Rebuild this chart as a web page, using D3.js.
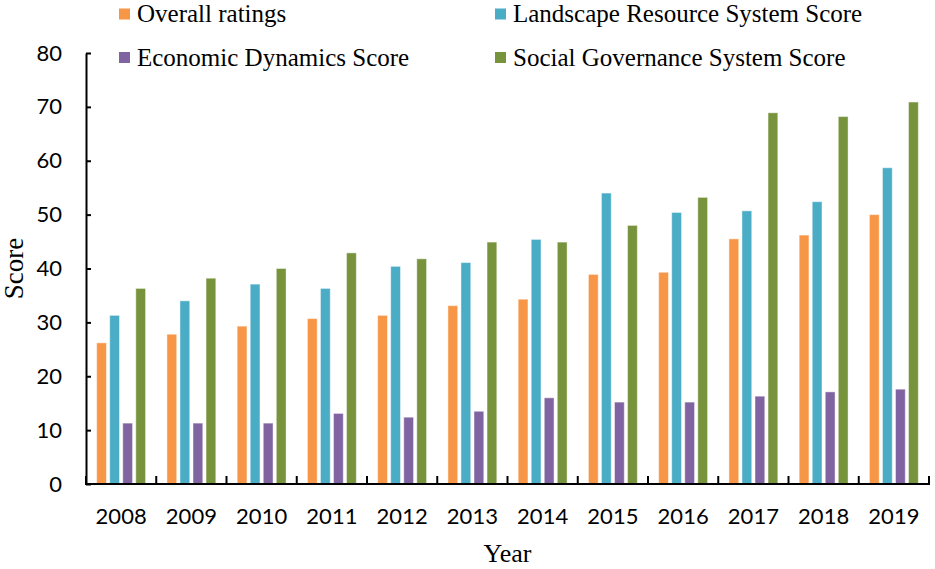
<!DOCTYPE html>
<html>
<head>
<meta charset="utf-8">
<script src="https://cdn.jsdelivr.net/npm/d3@7"></script>
<style>
  body { margin: 0; background: #fff; }
  .axis text { font-family: Lato, "Open Sans", sans-serif; font-size: 22px; fill: #000; }
  .serif { font-family: "Liberation Serif", "DejaVu Serif", serif; fill: #000; }
</style>
</head>
<body>
<div id="chart"></div>
<script>
// Datos
const years = ["2008", "2009", "2010", "2011", "2012", "2013", "2014", "2015", "2016", "2017", "2018", "2019"];
const seriesNames = ["Overall ratings", "Landscape Resource System Score", "Economic Dynamics Score", "Social Governance System Score"];
const overall   = [26.2, 27.8, 29.3, 30.7, 31.3, 33.1, 34.3, 38.9, 39.3, 45.5, 46.2, 50.0];
const landscape = [31.3, 34.0, 37.1, 36.3, 40.4, 41.1, 45.4, 54.0, 50.4, 50.7, 52.4, 58.7];
const economic  = [11.3, 11.3, 11.3, 13.1, 12.4, 13.5, 16.0, 15.2, 15.2, 16.3, 17.1, 17.6];
const social    = [36.3, 38.2, 40.0, 42.9, 41.8, 44.9, 44.9, 48.0, 53.2, 68.9, 68.2, 70.9];
const yTicks = [0, 10, 20, 30, 40, 50, 60, 70, 80];

const values = [overall, landscape, economic, social];
const colors = ["#F79646", "#4BACC6", "#8064A2", "#77933C"];

// Dimensiones
const width = 935;
const height = 569;
const margin = { top: 53, right: 6, bottom: 85, left: 86 };

const svg = d3.select("#chart").append("svg")
    .attr("width", width)
    .attr("height", height);

// Escalas
const x0 = d3.scaleBand()
    .domain(years)
    .range([margin.left, width - margin.right])
    .padding(0);

const bw = x0.bandwidth();
const x1 = d3.scaleBand()
    .domain(seriesNames)
    .range([bw * 0.152, bw * 0.848])
    .paddingInner(0.25)
    .paddingOuter(0);

const y = d3.scaleLinear()
    .domain([0, 80])
    .range([height - margin.bottom, margin.top]);

// Barras
const rows = years.map((yr, i) => ({
    year: yr,
    vals: seriesNames.map((s, k) => ({ key: s, value: values[k][i], color: colors[k] }))
}));

const groups = svg.selectAll("g.year")
    .data(rows)
    .enter().append("g")
    .attr("class", "year")
    .attr("transform", d => `translate(${x0(d.year)},0)`);

groups.selectAll("rect")
    .data(d => d.vals)
    .enter().append("rect")
    .attr("x", d => x1(d.key))
    .attr("width", x1.bandwidth())
    .attr("y", d => y(d.value))
    .attr("height", d => y(0) - y(d.value))
    .attr("fill", d => d.color)
    .attr("stroke", "#ffffff")
    .attr("stroke-opacity", 0.45)
    .attr("stroke-width", 1);

// Eje Y (marcas hacia dentro)
const yAxis = svg.append("g")
    .attr("class", "axis")
    .attr("transform", `translate(${margin.left},0)`)
    .call(d3.axisLeft(y).tickValues(yTicks).tickSizeInner(-5).tickSizeOuter(0).tickPadding(24));
yAxis.select(".domain").attr("stroke", "#000").attr("stroke-width", 2);
yAxis.selectAll(".tick line").attr("stroke", "#000").attr("stroke-width", 2);

// Eje X: etiquetas centradas, marcas entre categorías
const xAxis = svg.append("g")
    .attr("class", "axis")
    .attr("transform", `translate(0,${height - margin.bottom})`)
    .call(d3.axisBottom(x0).tickSize(0).tickPadding(24));
xAxis.select(".domain").remove();

svg.append("line")
    .attr("x1", margin.left - 1)
    .attr("x2", width - margin.right + 1)
    .attr("y1", y(0))
    .attr("y2", y(0))
    .attr("stroke", "#000")
    .attr("stroke-width", 2);

const bounds = years.map(yr => x0(yr) + x0.step()).concat([x0(years[0])]);
svg.append("g").selectAll("line")
    .data(bounds)
    .enter().append("line")
    .attr("x1", d => d)
    .attr("x2", d => d)
    .attr("y1", y(0))
    .attr("y2", y(0) - 8)
    .attr("stroke", "#000")
    .attr("stroke-width", 2);

// Títulos de ejes
svg.append("text")
    .attr("class", "serif")
    .attr("x", (margin.left + width - margin.right) / 2)
    .attr("y", 562)
    .attr("text-anchor", "middle")
    .style("font-size", "26px")
    .text("Year");

svg.append("text")
    .attr("class", "serif")
    .attr("transform", `translate(23,${(margin.top + height - margin.bottom) / 2}) rotate(-90)`)
    .attr("text-anchor", "middle")
    .style("font-size", "27px")
    .text("Score");

// Leyenda
const legendPos = [
    { x: 119, y: 14 },
    { x: 495, y: 14 },
    { x: 119, y: 57.5 },
    { x: 495, y: 57.5 }
];

const legend = svg.append("g").selectAll("g")
    .data(seriesNames)
    .enter().append("g")
    .attr("transform", (d, i) => `translate(${legendPos[i].x},${legendPos[i].y})`);

legend.append("rect")
    .attr("x", 0)
    .attr("y", -5.5)
    .attr("width", 11)
    .attr("height", 11)
    .attr("fill", (d, i) => colors[i]);

legend.append("text")
    .attr("class", "serif")
    .attr("x", 18)
    .attr("y", 8)
    .style("font-size", "25px")
    .text(d => d);
</script>
</body>
</html>
